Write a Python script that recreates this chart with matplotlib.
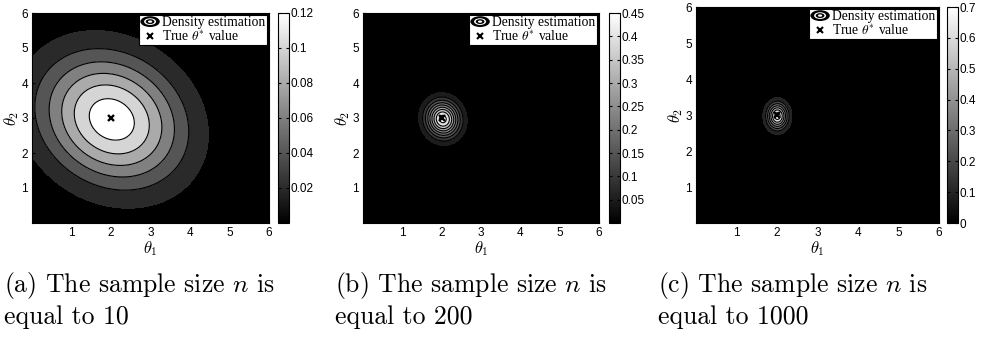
import numpy as np
import matplotlib
matplotlib.use("Agg")
import matplotlib.pyplot as plt
from matplotlib.legend_handler import HandlerBase
from matplotlib.patches import Ellipse
from matplotlib.lines import Line2D
import matplotlib.colors as mcolors
import matplotlib.cm as cm

plt.rcParams['mathtext.fontset'] = 'cm'

# Panels: sample size n
sample_sizes = [10, 200, 1000]
panel_tags = ["a", "b", "c"]

# Estimated density surfaces (peak height, centre and covariance)
peak_density = [0.133, 0.47, 0.75]
mean_theta1 = [2.02, 2.03, 2.01]
mean_theta2 = [2.96, 2.97, 2.97]
cov_11 = [1.58, 0.0855, 0.032]
cov_22 = [1.70, 0.127, 0.065]
cov_12 = [-0.28, -0.005, 0.0]

# Contour levels / colour bar
level_step = [0.02, 0.05, 0.1]
cbar_max = [0.12, 0.45, 0.7]
cbar_ticks = [[0.02, 0.04, 0.06, 0.08, 0.1, 0.12],
              [0.05, 0.1, 0.15, 0.2, 0.25, 0.3, 0.35, 0.4, 0.45],
              [0, 0.1, 0.2, 0.3, 0.4, 0.5, 0.6, 0.7]]
cbar_labels = [["0.02", "0.04", "0.06", "0.08", "0.1", "0.12"],
               ["0.05", "0.1", "0.15", "0.2", "0.25", "0.3", "0.35", "0.4", "0.45"],
               ["0", "0.1", "0.2", "0.3", "0.4", "0.5", "0.6", "0.7"]]

true_theta = (2, 3)
axis_ticks = [1, 2, 3, 4, 5, 6]

# layout in pixels (left, right, top, bottom) of each axes and colour bar
W, H = 981, 339
ax_px = [(32, 269, 13, 223), (363, 599, 13, 223), (696, 939, 7, 223)]
cb_px = [(278, 289), (609, 620), (947, 958)]
caption_x = [4, 335, 658]


class HandlerContour(HandlerBase):
    def create_artists(self, legend, orig_handle, xdescent, ydescent,
                       width, height, fontsize, trans):
        cx = width / 2 - xdescent
        cy = height / 2 - ydescent
        out = []
        for f, c in [(1.0, "black"), (0.62, "white"), (0.45, "black"), (0.22, "white")]:
            e = Ellipse((cx, cy), width * 0.95 * f, height * 1.25 * f,
                        facecolor=c, edgecolor="none", transform=trans)
            out.append(e)
        return out


fig = plt.figure(figsize=(W / 100, H / 100), dpi=100)

for i in range(3):
    l, r, t, b = ax_px[i]
    ax = fig.add_axes([l / W, 1 - b / H, (r - l) / W, (b - t) / H])
    cl, cr = cb_px[i]
    cax = fig.add_axes([cl / W, 1 - b / H, (cr - cl) / W, (b - t) / H])

    x = np.linspace(0, 6, 400)
    X, Y = np.meshgrid(x, x)
    S = np.array([[cov_11[i], cov_12[i]], [cov_12[i], cov_22[i]]])
    P = np.linalg.inv(S)
    dx = X - mean_theta1[i]
    dy = Y - mean_theta2[i]
    m2 = P[0, 0] * dx * dx + 2 * P[0, 1] * dx * dy + P[1, 1] * dy * dy
    Z = peak_density[i] * np.exp(-0.5 * m2)

    step = level_step[i]
    levs = list(np.arange(step, cbar_max[i] + step / 2, step))
    bounds = [0] + levs + [Z.max() * 1.01]
    cmap = plt.get_cmap("gray")
    colors = [cmap(min(lo / cbar_max[i], 1.0)) for lo in bounds[:-1]]
    ax.contourf(X, Y, Z, levels=bounds, colors=colors)
    ax.contour(X, Y, Z, levels=levs[1:], colors="black", linewidths=0.8)

    ax.plot([true_theta[0]], [true_theta[1]], "x", color="black",
            markersize=4.5, mew=1.7)

    ax.set_xlim(0, 6)
    ax.set_ylim(0, 6)
    ax.set_xticks(axis_ticks)
    ax.set_yticks(axis_ticks)
    ax.tick_params(direction="in", length=2, labelsize=8.5, pad=3, color="black")
    for lab in ax.get_xticklabels() + ax.get_yticklabels():
        lab.set_family("Liberation Sans")
    ax.set_xlabel(r"$\theta_1$", fontsize=12, labelpad=0)
    ax.set_ylabel(r"$\theta_2$", fontsize=12, labelpad=0)

    h1 = Line2D([], [])
    h2 = Line2D([], [], marker="x", color="black", linestyle="none",
                markersize=4, mew=1.5)
    leg = ax.legend([h1, h2], ["Density estimation", r"True $\theta^{*}$ value"],
                    handler_map={h1: HandlerContour()},
                    loc="upper right", borderaxespad=0.15, fancybox=False,
                    framealpha=1, edgecolor="black", handlelength=1.5,
                    handleheight=0.6, handletextpad=0.15, labelspacing=0.0,
                    borderpad=0.1, prop={"family": "Liberation Serif", "size": 9.8})
    leg.get_frame().set_linewidth(0.8)

    sm = cm.ScalarMappable(norm=mcolors.Normalize(0, cbar_max[i]), cmap=cmap)
    cb = fig.colorbar(sm, cax=cax)
    cb.set_ticks(cbar_ticks[i])
    cb.set_ticklabels(cbar_labels[i])
    cb.outline.set_linewidth(0.8)
    cax.tick_params(direction="in", length=2, labelsize=8.5, pad=1,
                    left=True, right=True)
    for lab in cax.get_yticklabels():
        lab.set_family("Liberation Sans")

    fig.text(caption_x[i] / W, 1 - 292 / H,
             "(" + panel_tags[i] + ") The sample size $n$ is",
             family="cmr10", fontsize=18.5, va="baseline", ha="left")
    fig.text(caption_x[i] / W, 1 - 324 / H, "equal to " + str(sample_sizes[i]),
             family="cmr10", fontsize=18.5, va="baseline", ha="left")

fig.savefig("out.png", dpi=100)
